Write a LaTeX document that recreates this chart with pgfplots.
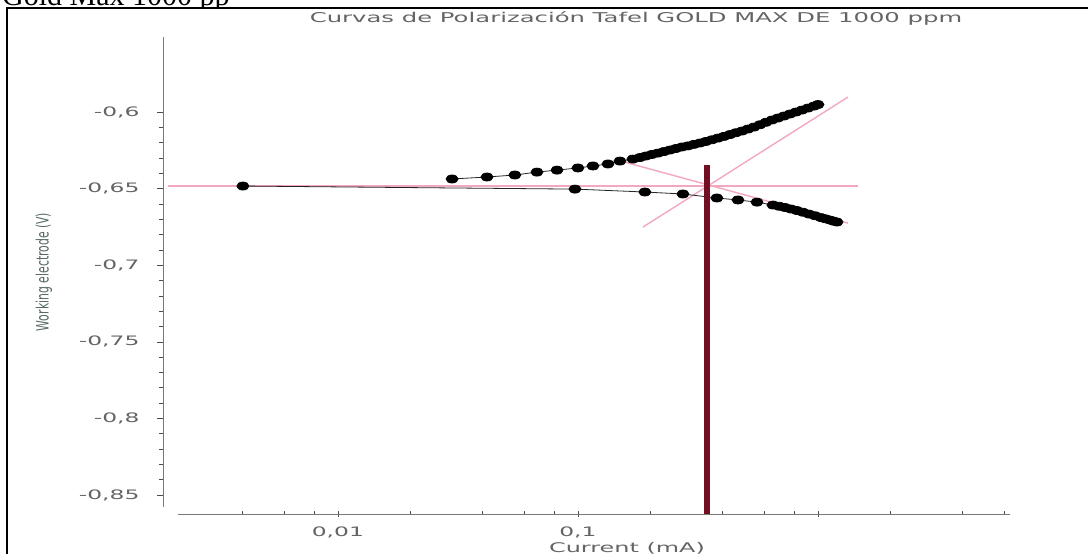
\documentclass[border=0pt]{standalone}
\usepackage{pgfplots}
\pgfplotsset{compat=1.18}
\usepackage{fontspec}
\setmainfont{DejaVu Sans}
\newfontfamily\wfont{DejaVu Sans}[FakeStretch=1.8]
\newfontfamily\yfont{DejaVu Sans}[FakeStretch=0.64]
\newfontfamily\docfont{Liberation Serif}
\definecolor{tafel}{RGB}{242,168,190}
\definecolor{icorr}{RGB}{115,15,35}
\definecolor{txtgray}{RGB}{100,100,100}
\definecolor{axgray}{RGB}{120,120,120}
\definecolor{ylabcol}{RGB}{85,105,100}
\begin{document}
\begin{tikzpicture}[x=1pt,y=1pt]
\useasboundingbox (0,0) rectangle (1088,554);
% document text above the figure (cut by page edge)
\node[anchor=base west, inner sep=0pt, font=\docfont\fontsize{30}{32}\selectfont] at (2,548) {Gold Max 1000 pp};
\fill[white] (7,0) rectangle (1090,546);
\begin{axis}[
  at={(163pt,40pt)}, anchor=south west,
  scale only axis, width=847pt, height=477pt,
  xmode=log, xmin=0.001868, xmax=6.31,
  ymin=-0.8624, ymax=-0.551,
  axis x line*=bottom, axis y line*=left,
  x axis line style={-, shorten <=15pt, draw=axgray, line width=0.8pt},
  y axis line style={-, shorten <=7pt, draw=axgray, line width=0.8pt},
  tick align=outside,
  major tick length=6pt, minor tick length=3.5pt,
  every tick/.style={draw=black!70, line width=0.6pt},
  xtick={0.01,0.1,1},
  xticklabels={{0,01},{0,1},{}},
  minor xtick={0.004,0.006,0.008,0.02,0.04,0.06,0.08,0.2,0.4,0.6,0.8,2,4,6},
  x tick style={yshift=3pt},
  ytick={-0.85,-0.8,-0.75,-0.7,-0.65,-0.6},
  yticklabels={{-0,85},{-0,8},{-0,75},{-0,7},{-0,65},{-0,6}},
  minor y tick num=4,
  ticklabel style={font=\wfont\fontsize{13}{15}\selectfont, text=txtgray},
  yticklabel style={xshift=-14pt},
  xticklabel style={yshift=-3pt},
  clip=false,
]
% Tafel fit lines
\addplot[tafel, line width=1.4pt, no marks] coordinates {(0.00196,-0.6483) (1.468,-0.6483)};
\addplot[tafel, line width=1.4pt, no marks] coordinates {(0.1454,-0.6313) (1.334,-0.6725)};
\addplot[tafel, line width=1.4pt, no marks] coordinates {(0.1866,-0.6751) (1.334,-0.5902)};
% cathodic branch
\addplot[black!85, line width=0.8pt, mark=*, mark size=4pt, mark options={xscale=1.5, fill=black, draw=black}] coordinates {
(0.00402,-0.6483) (0.0972,-0.6503) (0.1901,-0.6522) (0.2738,-0.6535)
(0.3793,-0.6561) (0.4642,-0.6574) (0.5572,-0.6588) (0.6494,-0.6607)
(0.6890,-0.6615) (0.7286,-0.6623) (0.7720,-0.6633) (0.8175,-0.6643)
(0.8660,-0.6654) (0.9173,-0.6666) (0.9720,-0.6677) (1.0292,-0.6689)
(1.0750,-0.6697) (1.122,-0.6705) (1.160,-0.6712) (1.200,-0.6718)};
% anodic branch
\addplot[black!85, line width=0.8pt, mark=*, mark size=4pt, mark options={xscale=1.5, fill=black, draw=black}] coordinates {
(0.0299,-0.6437) (0.0418,-0.6424) (0.0546,-0.6411) (0.0675,-0.6392)
(0.0818,-0.6379) (0.1000,-0.6365) (0.1155,-0.6352) (0.1334,-0.6339)
(0.1496,-0.6320) (0.1694,-0.6307) (0.1813,-0.6297) (0.1920,-0.6287)
(0.2033,-0.6277) (0.2154,-0.6268) (0.2282,-0.6258) (0.2417,-0.6248)
(0.2561,-0.6238) (0.2713,-0.6228) (0.2873,-0.6221) (0.3044,-0.6211)
(0.3225,-0.6202) (0.3415,-0.6192) (0.3618,-0.6181) (0.3831,-0.6170)
(0.4059,-0.6159) (0.4299,-0.6147) (0.4554,-0.6135) (0.4824,-0.6124)
(0.5109,-0.6111) (0.5412,-0.6098) (0.5733,-0.6083) (0.6072,-0.6067)
(0.6432,-0.6052) (0.6813,-0.6039) (0.7217,-0.6026) (0.7645,-0.6013)
(0.8098,-0.6000) (0.8577,-0.5987) (0.9085,-0.5974) (0.9624,-0.5961)
(1.0000,-0.5951)};
% corrosion current marker
\addplot[icorr, line width=5.5pt, no marks] coordinates {(0.3447,-0.6346) (0.3447,-0.8624)};
\end{axis}
% title and labels
\node[font=\wfont\fontsize{13.5}{15}\selectfont, text=txtgray] at (636,535.5) {Curvas de Polarización Tafel GOLD MAX DE 1000 ppm};
\node[anchor=base, inner sep=0pt, font=\wfont\fontsize{13.3}{15}\selectfont, text=txtgray] at (627,1) {Current (mA)};
\node[rotate=90, font=\yfont\fontsize{17}{19}\selectfont, text=ylabcol] at (44,282) {Working electrode (V)};
% frame of the embedded picture
\draw[line width=2pt] (7,-2) -- (7,546) -- (1092,546);
\end{tikzpicture}
\end{document}
